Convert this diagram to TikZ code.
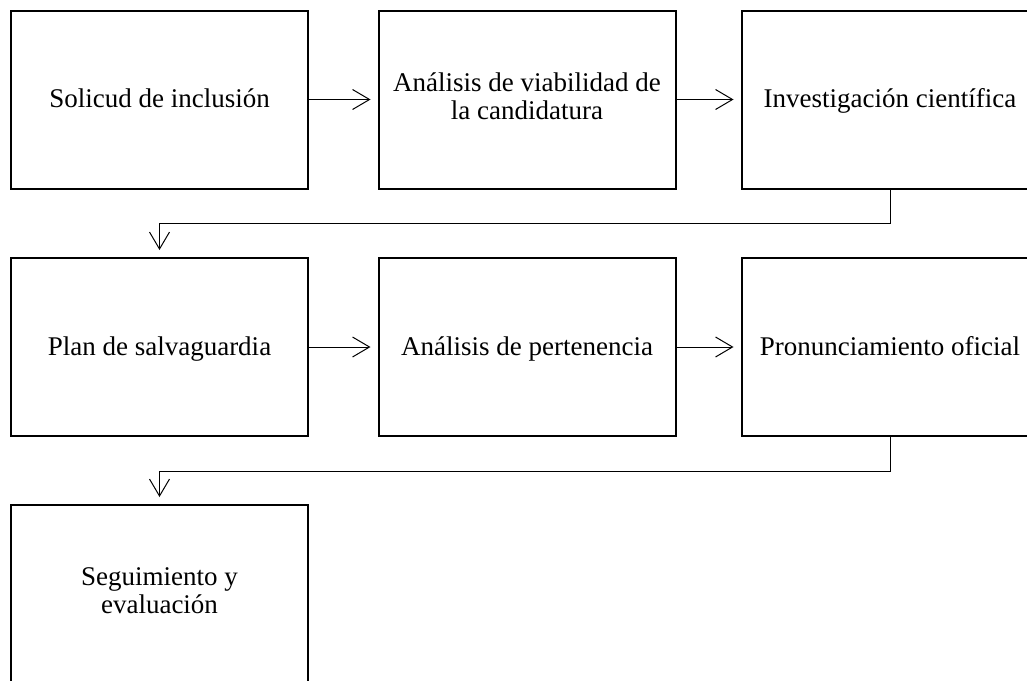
\documentclass[tikz,border=0pt]{standalone}
\usepackage{fontspec}
\setmainfont{Liberation Serif}
\usetikzlibrary{arrows.meta}
\begin{document}
\begin{tikzpicture}[x=1pt,y=-1pt,
  stepbox/.style={draw,line width=2pt,minimum width=297pt,minimum height=178pt,inner sep=0pt,
    align=center,font=\fontsize{27}{28}\selectfont,
    execute at begin node=\rule{0pt}{23pt}, execute at end node=\rule[-7pt]{0pt}{7pt}},
  conn/.style={line width=1pt,-{Straight Barb[length=17pt,width=20pt,line width=1pt]},shorten >=7pt}]
\useasboundingbox (0,0) rectangle (1027,680);
\node[stepbox] (a) at (159.5,99.5) {Solicud de inclusión};
\node[stepbox] (b) at (527,99.5) {Análisis de viabilidad de\\la candidatura};
\node[stepbox] (c) at (890,99.5) {Investigación científica};
\node[stepbox] (d) at (159.5,347) {Plan de salvaguardia};
\node[stepbox] (e) at (527,347) {Análisis de pertenencia};
\node[stepbox] (f) at (890,347) {Pronunciamiento oficial};
\node[stepbox] (g) at (159.5,594) {Seguimiento y\\evaluación};
\draw[conn] (a) -- (b);
\draw[conn] (b) -- (c);
\draw[conn] (d) -- (e);
\draw[conn] (e) -- (f);
\draw[conn] (c.south) -- ++(0,34) -| (d.north);
\draw[conn] (f.south) -- ++(0,34) -| (g.north);
\end{tikzpicture}
\end{document}
